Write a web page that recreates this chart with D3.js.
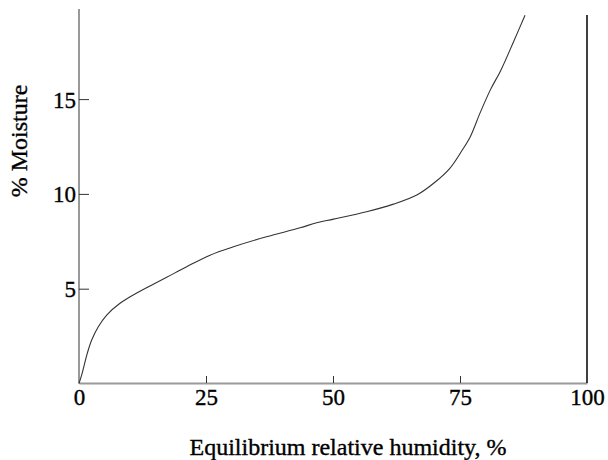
<!DOCTYPE html>
<html><head><meta charset="utf-8">
<script src="https://cdn.jsdelivr.net/npm/d3@7"></script>
<style>
body{margin:0;background:#fff;}
svg text{font-family:"Liberation Serif","Times New Roman",serif;fill:#000;}
</style></head>
<body>
<svg id="c" width="608" height="460"></svg>
<script>
const humidity = [0,0.53,1.63,2.5,3.8,5.45,8.07,10.69,13.98,17.26,21.2,25.8,30.4,36.9,43.5,46.8,50.1,56.6,61.9,66.5,70.0,73.0,75.3,77.0,79.0,81.0,83.0,85.5,87.8];
const moisture = [0,0.45,1.59,2.29,2.99,3.61,4.23,4.67,5.14,5.6,6.16,6.77,7.21,7.74,8.21,8.48,8.67,9.06,9.46,9.94,10.6,11.35,12.25,13.0,14.3,15.5,16.5,18.0,19.42];
const xTicks = [0,25,50,75,100];
const yTicks = [5,10,15];
const xTitle = "Equilibrium relative humidity, %";
const yTitle = "% Moisture";

const svg = d3.select("#c");
const x = d3.scaleLinear().domain([0,100]).range([79,587]);
const y = d3.scaleLinear().domain([0,5]).range([383.5,288.7]);
const yTop = 9;
const FF = "Liberation Serif";

// x axis
const gx = svg.append("g").attr("transform","translate(0,383)")
  .call(d3.axisBottom(x).tickValues(xTicks).tickFormat(d3.format("d")).tickSizeInner(-7).tickSizeOuter(0).tickPadding(6));
gx.attr("font-family",FF);
gx.select(".domain").attr("stroke","#999").attr("stroke-width",2);
gx.selectAll(".tick line").attr("stroke","#333").attr("stroke-width",1)
  .filter(d=>d===0||d===100).remove();
gx.selectAll(".tick text").attr("font-size",23).attr("font-family",FF).attr("fill","#000")
  .attr("stroke","#000").attr("stroke-width",0.35);

// y axis
const gy = svg.append("g").attr("transform","translate(79,0)")
  .call(d3.axisLeft(y).tickValues(yTicks).tickFormat(d3.format("d")).tickSizeInner(-10).tickSizeOuter(0).tickPadding(3));
gy.attr("font-family",FF);
gy.select(".domain").attr("d",`M0,${yTop}V383.5`).attr("stroke","#999").attr("stroke-width",2);
gy.selectAll(".tick line").attr("stroke","#333").attr("stroke-width",1);
gy.selectAll(".tick text").attr("font-size",23).attr("font-family",FF).attr("fill","#000").attr("dy","0.35em")
  .attr("stroke","#000").attr("stroke-width",0.35);

// right border
svg.append("line").attr("x1",x(100)).attr("x2",x(100)).attr("y1",15).attr("y2",383)
  .attr("stroke","#000").attr("stroke-width",1.5);

// curve
const pts = humidity.map((h,i)=>[h,moisture[i]]);
svg.append("path").datum(pts)
  .attr("fill","none").attr("stroke","#333").attr("stroke-width",1.1)
  .attr("d",d3.line().x(d=>x(d[0])).y(d=>y(d[1])).curve(d3.curveCatmullRom.alpha(0.5)));

// titles
svg.append("text").attr("x",348).attr("y",455).attr("text-anchor","middle")
  .attr("font-family",FF).attr("font-size",24).attr("stroke","#000").attr("stroke-width",0.35).text(xTitle);
svg.append("text").attr("transform","translate(27,141) rotate(-90)").attr("text-anchor","middle")
  .attr("font-family",FF).attr("font-size",24).attr("stroke","#000").attr("stroke-width",0.35).text(yTitle);
</script>
</body></html>
